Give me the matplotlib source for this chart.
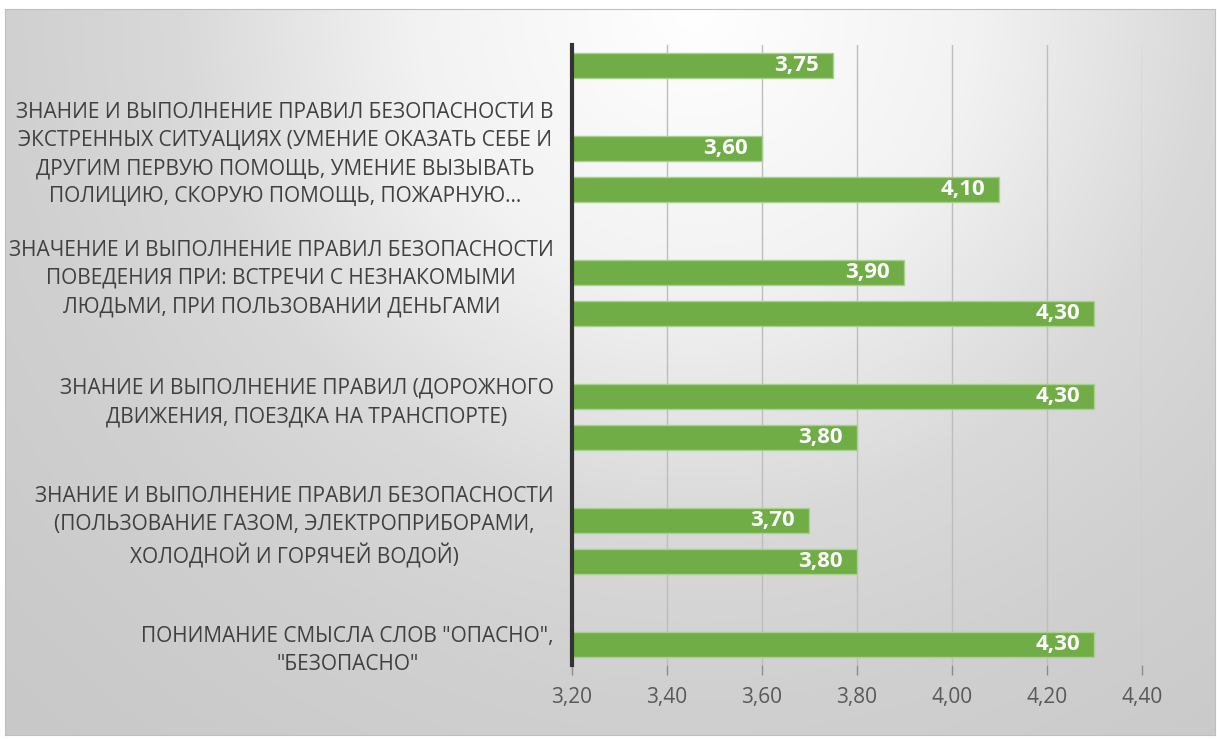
import numpy as np
import matplotlib
matplotlib.use("Agg")
from matplotlib import pyplot as plt

# categories, top to bottom
categories = [
    "ЗНАНИЕ И ВЫПОЛНЕНИЕ ПРАВИЛ БЕЗОПАСНОСТИ В\nЭКСТРЕННЫХ СИТУАЦИЯХ (УМЕНИЕ ОКАЗАТЬ СЕБЕ И\nДРУГИМ ПЕРВУЮ ПОМОЩЬ, УМЕНИЕ ВЫЗЫВАТЬ\nПОЛИЦИЮ, СКОРУЮ ПОМОЩЬ, ПОЖАРНУЮ…",
    "ЗНАЧЕНИЕ И ВЫПОЛНЕНИЕ ПРАВИЛ БЕЗОПАСНОСТИ\nПОВЕДЕНИЯ ПРИ: ВСТРЕЧИ С НЕЗНАКОМЫМИ\nЛЮДЬМИ, ПРИ ПОЛЬЗОВАНИИ ДЕНЬГАМИ",
    "ЗНАНИЕ И ВЫПОЛНЕНИЕ ПРАВИЛ (ДОРОЖНОГО\nДВИЖЕНИЯ, ПОЕЗДКА НА ТРАНСПОРТЕ)",
    "ЗНАНИЕ И ВЫПОЛНЕНИЕ ПРАВИЛ БЕЗОПАСНОСТИ\n(ПОЛЬЗОВАНИЕ ГАЗОМ, ЭЛЕКТРОПРИБОРАМИ,\nХОЛОДНОЙ И ГОРЯЧЕЙ ВОДОЙ)",
    "ПОНИМАНИЕ СМЫСЛА СЛОВ \"ОПАСНО\",\n\"БЕЗОПАСНО\"",
]
# two series per category (upper bar, lower bar)
series_a = [3.75, 4.10, 4.30, 3.80, 3.80]
series_b = [3.60, 3.90, 4.30, 3.70, 4.30]
x_ticks = [3.20, 3.40, 3.60, 3.80, 4.00, 4.20, 4.40]

FONT = ["Open Sans", "DejaVu Sans"]
plt.rcParams["font.family"] = FONT

W, H = 1217, 739
fig = plt.figure(figsize=(W / 100, H / 100), dpi=100)
fig.patch.set_facecolor("white")

# background gradient of the chart area
bg = fig.add_axes([5 / W, 4 / H, 1210 / W, 726 / H])
yy, xx = np.mgrid[0:726, 0:1210]
d = np.hypot(xx - 690, yy - 0)
shade = np.interp(d, [0, 280, 515, 690, 900, 1100], [255, 242, 217, 208, 202, 198]) / 255
bg.imshow(np.dstack([shade] * 3), aspect="auto", extent=[0, 1, 0, 1])
bg.set_xticks([])
bg.set_yticks([])
for s in bg.spines.values():
    s.set_color("#bfbfbf")
    s.set_linewidth(0.8)

ax = fig.add_axes([571.7 / W, 1 - 665 / H, 570 / W, 620 / H])
ax.set_facecolor("none")

n = len(categories)
pos_a = np.arange(n) * 3
pos_b = np.arange(n) * 3 + 2
green = "#70ad47"
for pos, vals in [(pos_a, series_a), (pos_b, series_b)]:
    ax.barh(pos, np.array(vals) - 3.2, left=3.2, height=0.6,
            color=green, edgecolor="#a9d18e", linewidth=1.0, zorder=3)
    for p, v in zip(pos, vals):
        ax.text(v - 0.03, p, f"{v:.2f}".replace(".", ","), ha="right", va="center",
                color="white", fontsize=16, fontweight="bold", zorder=4)

ax.set_xlim(3.2, 4.4)
ax.set_ylim(14.5, -0.5)
ax.set_xticks(x_ticks)
ax.set_xticklabels([f"{t:.2f}".replace(".", ",") for t in x_ticks],
                   fontsize=15, color="#595959")
ax.set_yticks(pos_b)
ax.set_yticklabels(categories, fontsize=15, color="#404040",
                   multialignment="center", linespacing=1.45)
ax.tick_params(axis="y", length=0, pad=13)
ax.tick_params(axis="x", length=7, width=1, color="#8c8c8c", pad=9)
ax.grid(axis="x", color="#bdbdbd", linewidth=1, zorder=0)
for s in ["top", "right", "bottom"]:
    ax.spines[s].set_visible(False)
ax.spines["left"].set_color("#333333")
ax.spines["left"].set_linewidth(3)
ax.spines["left"].set_zorder(5)

fig.savefig("out.png", dpi=100)
